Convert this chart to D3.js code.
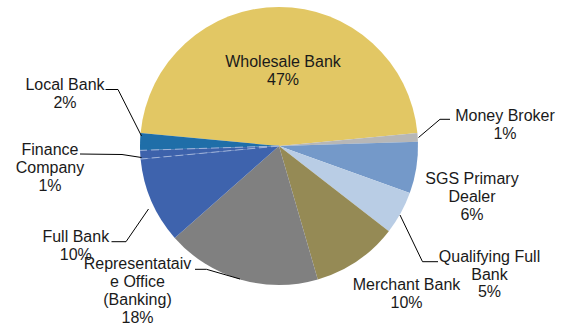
<!DOCTYPE html>
<html>
<head>
<meta charset="utf-8">
<script src="https://cdn.jsdelivr.net/npm/d3@7"></script>
<style>
  html, body { margin: 0; padding: 0; background: #fff; }
  svg { display: block; }
  text { font-family: "Liberation Sans", Arial, sans-serif; font-size: 16px; fill: #1a1a1a; }
</style>
</head>
<body>
<svg id="chart" width="566" height="328"></svg>
<script>
// Licence types, in drawing order (clockwise from the upper-left edge)
const categories = [
  "Wholesale Bank", "Money Broker", "SGS Primary Dealer", "Qualifying Full Bank",
  "Merchant Bank", "Representataive Office (Banking)", "Full Bank",
  "Finance Company", "Local Bank"
];
// Share of institutions, percent
const shares = [47, 1, 6, 5, 10, 18, 10, 1, 2];
// Label lines as printed next to each slice
const labelLines = [
  ["Wholesale Bank", "47%"],
  ["Money Broker", "1%"],
  ["SGS Primary", "Dealer", "6%"],
  ["Qualifying Full", "Bank", "5%"],
  ["Merchant Bank", "10%"],
  ["Representataiv", "e Office", "(Banking)", "18%"],
  ["Full Bank", "10%"],
  ["Finance", "Company", "1%"],
  ["Local Bank", "2%"]
];

// Slice fills
const colors = ["#E2C764", "#B7B7B7", "#7499C9", "#B9CDE5", "#958A55",
                "#808080", "#3E63AD", "#3D62AB", "#1F6EA8"];

// Layout: label anchors (centre x, first baseline y) and leader-line bends
const labelAnchor = [
  [283, 67], [505, 120.7], [472, 184.3], [489.5, 261.7], [406.5, 290],
  [137.5, 269.3], [75.8, 241.7], [50, 155], [65, 90]
];
const leaders = [
  null,
  [[450, 119.3], [440, 119.3], [418.5, 137.5]],
  null,
  [[438, 261.7], [422.5, 261.7], [400, 215]],
  null,
  [[195, 269.3], [206.5, 269.3], [240, 279]],
  [[111.5, 241.7], [126, 241.7], [148.5, 209]],
  [[80, 154], [122, 154.5], [141.5, 157.5]],
  [[105.5, 89.5], [118, 89.5], [141.5, 136]]
];

const cx = 279, cy = 146, radius = 139;
const lineHeight = 17.8;

const data = categories.map((c, i) => ({ name: c, value: shares[i], idx: i }));

const pie = d3.pie()
  .value(d => d.value)
  .sort(null)
  .startAngle(-84.6 * Math.PI / 180)
  .endAngle((360 - 84.6) * Math.PI / 180);

const arc = d3.arc().innerRadius(0).outerRadius(radius);

const svg = d3.select("#chart");
const g = svg.append("g").attr("transform", `translate(${cx},${cy})`);

const arcs = pie(data);

g.selectAll("path.slice")
  .data(arcs)
  .join("path")
  .attr("class", "slice")
  .attr("d", arc)
  .attr("fill", d => colors[d.data.idx]);

// faint dashed edges around the thin finance-company slice
const fin = arcs[categories.indexOf("Finance Company")];
[fin.startAngle, fin.endAngle].forEach(a => {
  g.append("line")
    .attr("x1", 0).attr("y1", 0)
    .attr("x2", radius * Math.sin(a)).attr("y2", -radius * Math.cos(a))
    .attr("stroke", "#9FB3DA")
    .attr("stroke-width", 1)
    .attr("stroke-dasharray", "8,4");
});

// leader lines
svg.selectAll("polyline.leader")
  .data(leaders.filter(l => l))
  .join("polyline")
  .attr("class", "leader")
  .attr("points", d => d.map(p => p.join(",")).join(" "))
  .attr("fill", "none")
  .attr("stroke", "#000")
  .attr("stroke-width", 1);

// labels
const labels = svg.selectAll("text.lbl")
  .data(arcs)
  .join("text")
  .attr("class", "lbl")
  .attr("text-anchor", "middle");

labels.each(function(d) {
  const i = d.data.idx;
  const [x, y] = labelAnchor[i];
  d3.select(this).selectAll("tspan")
    .data(labelLines[i])
    .join("tspan")
    .attr("x", x)
    .attr("y", (t, k) => y + k * lineHeight)
    .text(t => t);
});
</script>
</body>
</html>
